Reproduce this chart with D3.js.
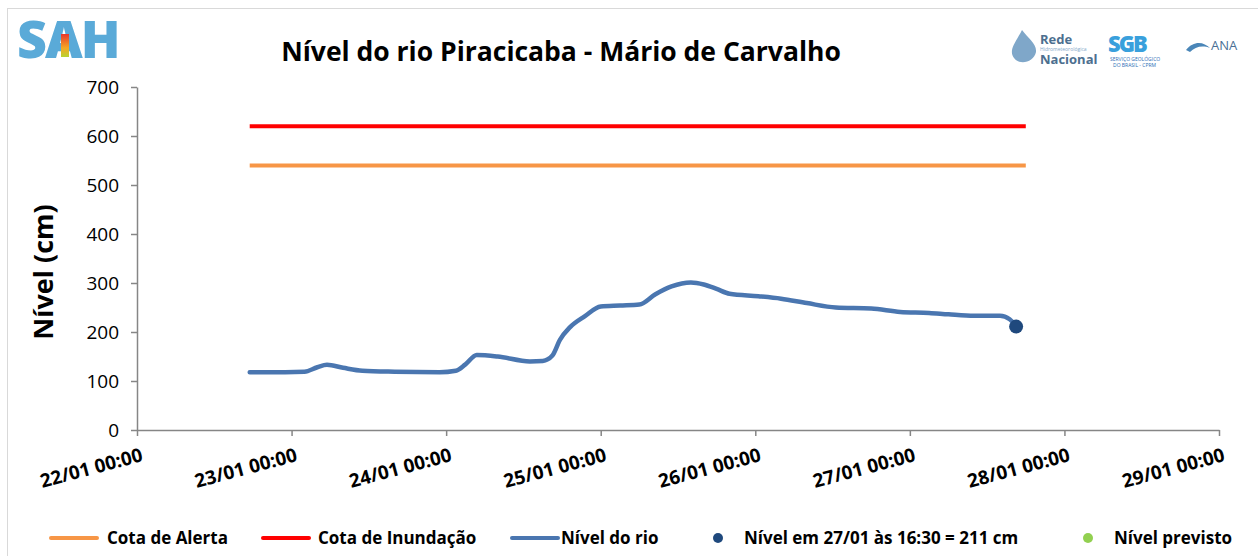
<!DOCTYPE html>
<html>
<head>
<meta charset="utf-8">
<script src="https://cdn.jsdelivr.net/npm/d3@7"></script>
<style>
  body { margin: 0; background: #fff; }
  text { font-family: "Open Sans", Lato, sans-serif; fill: #000; }
</style>
</head>
<body>
<div id="chart"></div>
<script>
const width = 1258;
const height = 556;

// données
const dayLabels = ["22/01 00:00", "23/01 00:00", "24/01 00:00", "25/01 00:00",
  "26/01 00:00", "27/01 00:00", "28/01 00:00", "29/01 00:00"];
const yTicks = [0, 100, 200, 300, 400, 500, 600, 700];

const levelTimes = ["22/01 17:30", "22/01 23:00", "23/01 02:00", "23/01 04:00", "23/01 05:30",
  "23/01 08:00", "23/01 11:00", "23/01 16:00", "23/01 23:00", "24/01 01:30", "24/01 03:00",
  "24/01 04:45", "24/01 08:00", "24/01 13:00", "24/01 15:00", "24/01 16:30", "24/01 17:40",
  "24/01 19:15", "24/01 21:30", "25/01 00:00", "25/01 03:00", "25/01 06:00", "25/01 08:30",
  "25/01 11:00", "25/01 14:00", "25/01 16:00", "25/01 18:00", "25/01 20:00", "26/01 00:30",
  "26/01 04:00", "26/01 08:00", "26/01 12:30", "26/01 18:00", "26/01 22:30", "27/01 03:00",
  "27/01 06:00", "27/01 10:00", "27/01 14:00", "27/01 15:30", "27/01 16:30"];
const levelValues = [118, 118, 119, 128, 133,
  127, 121, 119, 118, 121, 134,
  153, 150, 140, 141, 152, 184,
  210, 232, 252, 254, 256, 277,
  293, 301, 297, 288, 278, 273,
  268, 259, 250, 248, 241, 239,
  236, 233, 233, 226, 211];

const alertLevel = 540;   // Cota de Alerta
const floodLevel = 620;   // Cota de Inundação
const thresholdSpan = ["22/01 17:30", "27/01 18:00"];
const currentTime = "27/01 16:30";
const currentValue = 211;

const parse = d3.timeParse("%d/%m %H:%M");
const series = levelTimes.map((t, i) => ({ t: parse(t), v: levelValues[i] }));

const svg = d3.select("#chart").append("svg")
  .attr("width", width)
  .attr("height", height);

// cadre
svg.append("rect")
  .attr("x", 7.5).attr("y", 8.5)
  .attr("width", width + 20).attr("height", height + 20)
  .attr("fill", "none").attr("stroke", "#d9d9d9");

const x = d3.scaleTime()
  .domain([parse(dayLabels[0]), parse(dayLabels[dayLabels.length - 1])])
  .range([137, 1219]);
const y = d3.scaleLinear().domain([0, 700]).range([430, 87]);

// axe Y
const yAxis = svg.append("g")
  .attr("transform", `translate(${x.range()[0]},0)`)
  .call(d3.axisLeft(y).tickValues(yTicks).tickSize(6).tickPadding(12).tickSizeOuter(0));
yAxis.selectAll("text").style("font-size", "19px").attr("dy", "0.36em");

// axe X
svg.append("g")
  .attr("transform", `translate(0,${y(0)})`)
  .call(d3.axisBottom(x).tickValues(dayLabels.map(parse)).tickSize(6).tickSizeOuter(0).tickFormat(""));
svg.selectAll(".domain, .tick line").attr("stroke", "#868686").attr("stroke-width", 1.5);

svg.append("g").selectAll("text")
  .data(dayLabels)
  .join("text")
  .attr("transform", d => `translate(${x(parse(d)) + 3},${y(0) + 17}) rotate(-15)`)
  .attr("text-anchor", "end")
  .attr("dy", "0.75em")
  .style("font-size", "19px")
  .style("font-weight", "bold")
  .text(d => d);

// cotas
const thresholds = [
  { v: alertLevel, c: "#f79646" },
  { v: floodLevel, c: "#ff0000" }
];
svg.append("g").selectAll("line")
  .data(thresholds)
  .join("line")
  .attr("x1", x(parse(thresholdSpan[0])))
  .attr("x2", x(parse(thresholdSpan[1])))
  .attr("y1", d => y(d.v))
  .attr("y2", d => y(d.v))
  .attr("stroke", d => d.c)
  .attr("stroke-width", 4);

// nível do rio
const line = d3.line()
  .x(d => x(d.t))
  .y(d => y(d.v))
  .curve(d3.curveMonotoneX);
svg.append("path")
  .datum(series)
  .attr("d", line)
  .attr("fill", "none")
  .attr("stroke", "#4a76b0")
  .attr("stroke-width", 4.5)
  .attr("stroke-linecap", "round")
  .attr("stroke-linejoin", "round");

svg.append("circle")
  .attr("cx", x(parse(currentTime)))
  .attr("cy", y(currentValue))
  .attr("r", 7)
  .attr("fill", "#1f497d");

// titre
svg.append("text")
  .attr("x", 561).attr("y", 61)
  .attr("text-anchor", "middle")
  .style("font-size", "26.5px")
  .style("font-weight", "bold")
  .text("Nível do rio Piracicaba - Mário de Carvalho");

svg.append("text")
  .attr("transform", "translate(53,272) rotate(-90)")
  .attr("text-anchor", "middle")
  .style("font-size", "27px")
  .style("font-weight", "bold")
  .text("Nível (cm)");

// légende
const legendItems = [
  { label: "Cota de Alerta", type: "line", c: "#f79646", sx: 51, tx: 107 },
  { label: "Cota de Inundação", type: "line", c: "#ff0000", sx: 263, tx: 318 },
  { label: "Nível do rio", type: "line", c: "#4a76b0", sx: 512, tx: 561 },
  { label: "Nível em 27/01 às 16:30 = 211 cm", type: "dot", c: "#1f497d", sx: 718, tx: 744 },
  { label: "Nível previsto", type: "dot", c: "#92d050", sx: 1088, tx: 1114 }
];
const legend = svg.append("g");
legendItems.forEach(d => {
  if (d.type === "line") {
    legend.append("line")
      .attr("x1", d.sx).attr("x2", d.sx + 46)
      .attr("y1", 538).attr("y2", 538)
      .attr("stroke", d.c).attr("stroke-width", 4).attr("stroke-linecap", "round");
  } else {
    legend.append("circle")
      .attr("cx", d.sx).attr("cy", 538).attr("r", 5).attr("fill", d.c);
  }
  legend.append("text")
    .attr("x", d.tx).attr("y", 538).attr("dy", "0.36em")
    .style("font-size", "17px").style("font-weight", "bold")
    .text(d.label);
});

// logos (simplifiés)
const defs = svg.append("defs");
const grad = defs.append("linearGradient").attr("id", "sahGrad")
  .attr("x1", 0).attr("y1", 0).attr("x2", 0).attr("y2", 1);
grad.append("stop").attr("offset", "0%").attr("stop-color", "#e8362c");
grad.append("stop").attr("offset", "60%").attr("stop-color", "#f6a623");
grad.append("stop").attr("offset", "100%").attr("stop-color", "#b8d432");

svg.append("text")
  .attr("x", 17).attr("y", 58)
  .style("font-size", "52px").style("font-weight", "800")
  .style("fill", "#5aaad8").style("letter-spacing", "-2px")
  .text("SAH");
svg.append("rect")
  .attr("x", 61).attr("y", 34).attr("width", 8).attr("height", 23)
  .attr("fill", "url(#sahGrad)");

const logos = svg.append("g");
logos.append("path")
  .attr("d", "M1022,30 C1016,42 1008,50 1014,58 C1020,66 1034,62 1036,52 C1037,44 1028,38 1022,30 Z")
  .attr("fill", "#7fa7c9");
logos.append("text").attr("x", 1040).attr("y", 44)
  .style("font-size", "13px").style("fill", "#4d6f8f").style("font-weight", "bold").text("Rede");
logos.append("text").attr("x", 1040).attr("y", 51)
  .style("font-size", "5px").style("fill", "#7fa7c9").text("Hidrometeorológica");
logos.append("text").attr("x", 1040).attr("y", 64)
  .style("font-size", "13px").style("fill", "#4d6f8f").style("font-weight", "bold").text("Nacional");
logos.append("text").attr("x", 1108).attr("y", 52)
  .style("font-size", "22px").style("font-weight", "800").style("fill", "#39a0dc")
  .style("letter-spacing", "-2px").text("SGB");
logos.append("text").attr("x", 1110).attr("y", 61)
  .style("font-size", "5px").style("fill", "#2a6db5").text("SERVIÇO GEOLÓGICO");
logos.append("text").attr("x", 1113).attr("y", 67)
  .style("font-size", "5px").style("fill", "#2a6db5").text("DO BRASIL - CPRM");
logos.append("path")
  .attr("d", "M1186,50 C1194,40 1204,42 1210,48 C1202,45 1195,47 1190,52 Z")
  .attr("fill", "#4a86b8");
logos.append("text").attr("x", 1211).attr("y", 50)
  .style("font-size", "13px").style("fill", "#4a6f94").text("ANA");
</script>
</body>
</html>
